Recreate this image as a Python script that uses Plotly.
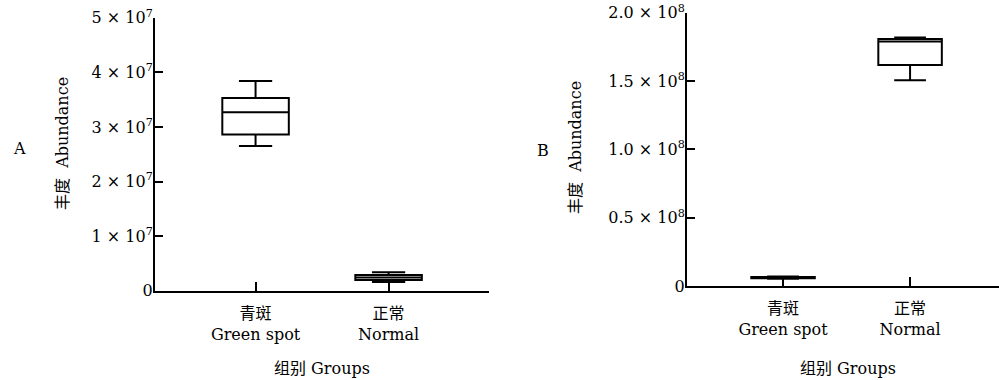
import plotly.graph_objects as go

# ---- data ----
categories = ["青斑<br>Green spot", "正常<br>Normal"]
cat_pos = [0, 1]

# Panel A (abundance)
a_lower = [2.65e7, 1.6e6]
a_q1 = [2.86e7, 1.96e6]
a_median = [3.27e7, 2.4e6]
a_q3 = [3.53e7, 2.87e6]
a_upper = [3.84e7, 3.37e6]

# Panel B (abundance)
b_lower = [5.3e6, 1.506e8]
b_q1 = [5.6e6, 1.618e8]
b_median = [6.1e6, 1.789e8]
b_q3 = [6.6e6, 1.808e8]
b_upper = [6.9e6, 1.818e8]

a_tickvals = [0, 1e7, 2e7, 3e7, 4e7, 5e7]
a_ticktext = ["0", "1 × 10<sup>7</sup>", "2 × 10<sup>7</sup>", "3 × 10<sup>7</sup>",
              "4 × 10<sup>7</sup>", "5 × 10<sup>7</sup>"]
b_tickvals = [0, 0.5e8, 1.0e8, 1.5e8, 2.0e8]
b_ticktext = ["0", "0.5 × 10<sup>8</sup>", "1.0 × 10<sup>8</sup>",
              "1.5 × 10<sup>8</sup>", "2.0 × 10<sup>8</sup>"]

FONT = "DejaVu Serif, Noto Sans CJK SC, serif"
W, H = 999, 380

fig = go.Figure()

def add_box(xaxis, yaxis, pos, lo, q1, med, q3, up):
    fig.add_trace(go.Box(
        x=[pos], lowerfence=[lo], q1=[q1], median=[med], q3=[q3], upperfence=[up],
        xaxis=xaxis, yaxis=yaxis, width=0.5, whiskerwidth=0.5,
        fillcolor="white", line=dict(color="black", width=2),
        boxpoints=False, showlegend=False, hoverinfo="skip",
    ))

for i, p in enumerate(cat_pos):
    add_box("x", "y", p, a_lower[i], a_q1[i], a_median[i], a_q3[i], a_upper[i])
    add_box("x2", "y2", p, b_lower[i], b_q1[i], b_median[i], b_q3[i], b_upper[i])

axis_common = dict(showline=True, linecolor="black", linewidth=2, ticks="inside",
                   tickwidth=2, tickcolor="black", showgrid=False, zeroline=False,
                   automargin=False,
                   tickfont=dict(family=FONT, size=16, color="black"))

fig.update_layout(
    width=W, height=H, margin=dict(l=0, r=0, t=0, b=0, pad=0, autoexpand=False),
    plot_bgcolor="white", paper_bgcolor="white",
    font=dict(family=FONT, color="black"),
    xaxis=dict(domain=[155 / W, 489 / W], range=[-0.756, 1.755], anchor="y",
               tickvals=cat_pos, ticktext=categories, ticklen=9,
               ticklabelstandoff=7, **axis_common),
    yaxis=dict(domain=[(H - 290.7) / H, (H - 17.7) / H], range=[0, 5e7], anchor="x",
               tickvals=a_tickvals, ticktext=a_ticktext, ticklen=8,
               ticklabelstandoff=-3, **axis_common),
    xaxis2=dict(domain=[687 / W, 1.0], range=[-0.756, 1.70], anchor="y2",
                tickvals=cat_pos, ticktext=categories, ticklen=9,
                ticklabelstandoff=7, **axis_common),
    yaxis2=dict(domain=[(H - 286) / H, (H - 12.7) / H], range=[0, 2e8], anchor="x2",
                tickvals=b_tickvals, ticktext=b_ticktext, ticklen=8,
                ticklabelstandoff=-3, **axis_common),
)

def ann(text, x, y, angle=0, size=16):
    fig.add_annotation(text=text, x=x / W, y=1 - y / H, xref="paper", yref="paper",
                       showarrow=False, textangle=angle, xanchor="center", yanchor="middle",
                       font=dict(family=FONT, size=size, color="black"))

ann("A", 19, 148)
ann("B", 543, 150)
ann("丰度  Abundance", 62, 144, angle=-90)
ann("丰度  Abundance", 575, 148, angle=-90)
ann("组别 Groups", 322, 368)
ann("组别 Groups", 848, 368)

fig.write_html("out.html")
